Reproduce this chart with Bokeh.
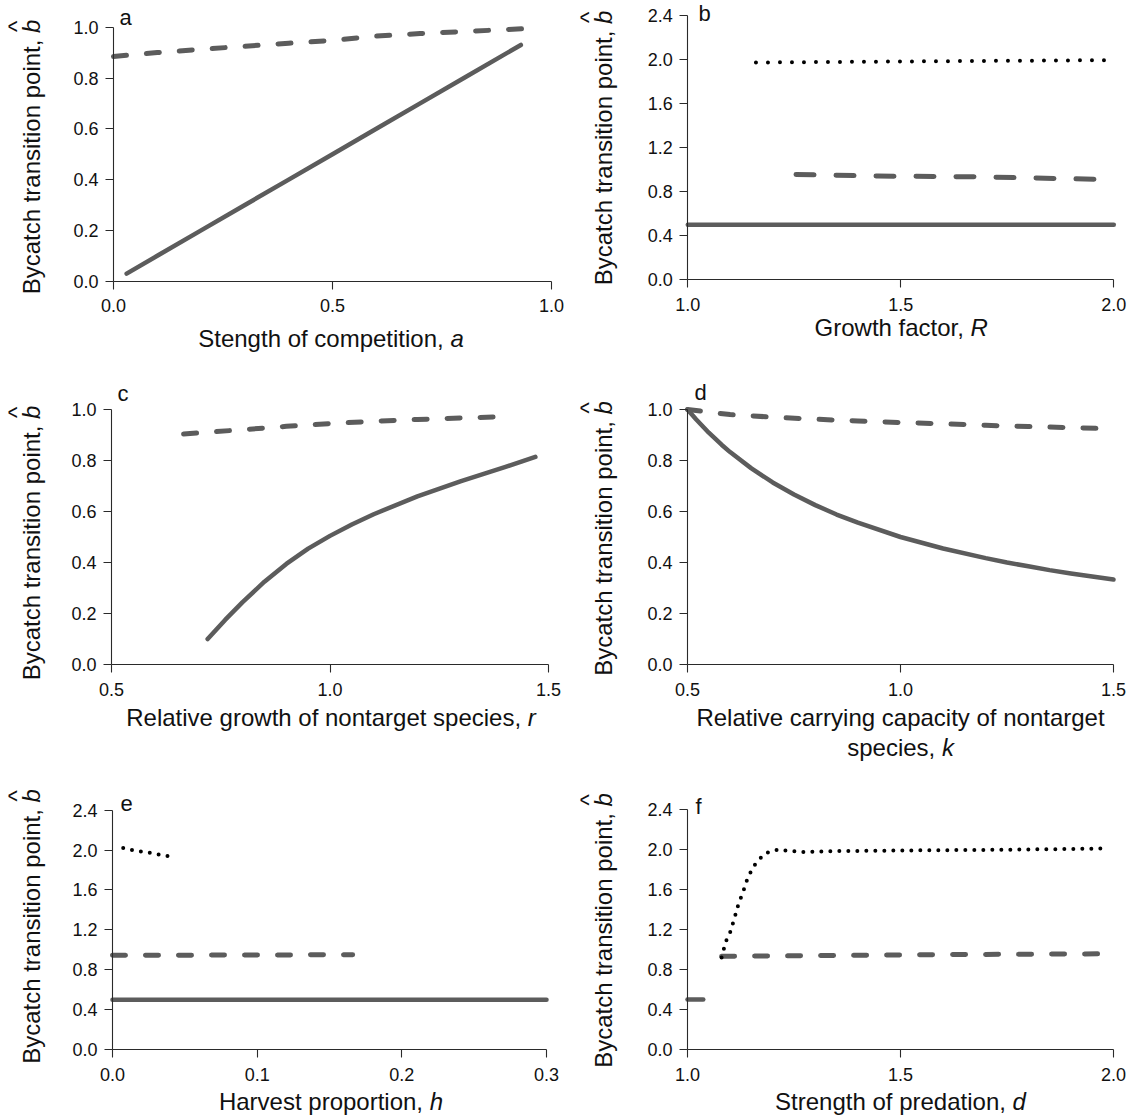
import math
from bokeh.plotting import figure
from bokeh.models import Range1d, FixedTicker, PrintfTickFormatter, Label, LinearAxis
from bokeh.layouts import column, row
from bokeh.embed import file_html
from bokeh.resources import INLINE

FONT = "Liberation Sans"
GRAY = "#5c5c5c"
INK = "#111111"

# ---------------- data ----------------
# panel a : strength of competition
a_x_ticks = [0.0, 0.5, 1.0]
a_y_ticks = [0.0, 0.2, 0.4, 0.6, 0.8, 1.0]
a_solid_x = [0.03, 0.1, 0.2, 0.3, 0.4, 0.5, 0.6, 0.7, 0.8, 0.93]
a_solid_y = [0.03, 0.1, 0.2, 0.3, 0.4, 0.5, 0.6, 0.7, 0.8, 0.93]
a_dash_x = [0.0, 0.1, 0.2, 0.3, 0.4, 0.5, 0.6, 0.7, 0.8, 0.9, 0.95]
a_dash_y = [0.885, 0.9, 0.913, 0.925, 0.937, 0.948, 0.965, 0.975, 0.983, 0.991, 0.995]

# panel b : growth factor R
b_x_ticks = [1.0, 1.5, 2.0]
b_y_ticks = [0.0, 0.4, 0.8, 1.2, 1.6, 2.0, 2.4]
b_solid_x = [1.0, 1.25, 1.5, 1.75, 2.0]
b_solid_y = [0.5, 0.5, 0.5, 0.5, 0.5]
b_dash_x = [1.254, 1.446, 1.66, 1.97]
b_dash_y = [0.956, 0.942, 0.936, 0.912]
b_dot_x = [1.16, 1.4, 1.6, 1.8, 2.0]
b_dot_y = [1.973, 1.98, 1.985, 1.99, 1.995]

# panel c : relative growth of nontarget species r
c_x_ticks = [0.5, 1.0, 1.5]
c_y_ticks = [0.0, 0.2, 0.4, 0.6, 0.8, 1.0]
c_solid_x = [0.72, 0.76, 0.8, 0.85, 0.9, 0.95, 1.0, 1.05, 1.1, 1.2, 1.3, 1.4, 1.47]
c_solid_y = [0.10, 0.175, 0.245, 0.325, 0.395, 0.455, 0.505, 0.55, 0.59, 0.66, 0.72,
             0.775, 0.815]
c_dash_x = [0.665, 0.8, 0.9, 1.0, 1.1, 1.2, 1.3, 1.4]
c_dash_y = [0.905, 0.922, 0.935, 0.946, 0.955, 0.962, 0.968, 0.973]

# panel d : relative carrying capacity k
d_x_ticks = [0.5, 1.0, 1.5]
d_y_ticks = [0.0, 0.2, 0.4, 0.6, 0.8, 1.0]
d_solid_x = [0.5, 0.52, 0.55, 0.58, 0.6, 0.65, 0.7, 0.75, 0.8, 0.85, 0.9, 1.0, 1.1,
             1.2, 1.25, 1.3, 1.35, 1.4, 1.45, 1.5]
d_solid_y = [1.0, 0.962, 0.909, 0.862, 0.833, 0.769, 0.714, 0.667, 0.625, 0.588, 0.556,
             0.5, 0.455, 0.417, 0.4, 0.385, 0.37, 0.357, 0.345, 0.333]
d_dash_x = [0.5, 0.6, 0.7, 0.8, 0.9, 1.0, 1.1, 1.2, 1.3, 1.4, 1.5]
d_dash_y = [1.0, 0.98, 0.97, 0.962, 0.955, 0.949, 0.944, 0.938, 0.933, 0.929, 0.924]

# panel e : harvest proportion h
e_x_ticks = [0.0, 0.1, 0.2, 0.3]
e_y_ticks = [0.0, 0.4, 0.8, 1.2, 1.6, 2.0, 2.4]
e_solid_x = [0.0, 0.1, 0.2, 0.3]
e_solid_y = [0.5, 0.5, 0.5, 0.5]
e_dash_x = [0.0, 0.05, 0.1, 0.166]
e_dash_y = [0.945, 0.946, 0.948, 0.95]
e_dot_x = [0.0074, 0.015, 0.022, 0.027, 0.034, 0.0405]
e_dot_y = [2.02, 1.995, 1.98, 1.97, 1.95, 1.935]

# panel f : strength of predation d
f_x_ticks = [1.0, 1.5, 2.0]
f_y_ticks = [0.0, 0.4, 0.8, 1.2, 1.6, 2.0, 2.4]
f_solid_x = [1.0, 1.037]
f_solid_y = [0.5, 0.5]
f_dash_x = [1.08, 1.2, 1.4, 1.6, 1.8, 2.0]
f_dash_y = [0.933, 0.935, 0.943, 0.949, 0.953, 0.957]
f_dot_x = [1.08, 1.09, 1.10, 1.11, 1.12, 1.13, 1.14, 1.15, 1.16, 1.175, 1.19, 1.215,
           1.24, 1.275, 1.33, 1.5, 1.75, 1.99]
f_dot_y = [0.92, 1.08, 1.17, 1.31, 1.46, 1.57, 1.70, 1.79, 1.86, 1.93, 1.975, 2.0,
           1.985, 1.975, 1.983, 1.99, 1.998, 2.01]

Y_TITLE = "Bycatch transition point, "
Y_VAR = "b"
HAT = "^"

BASE_FIX = 0.4   # rendered baseline sits ~0.4 em lower than requested


class Panel:
    """A figure whose frame is the whole canvas; axes are pinned inside it."""

    def __init__(self, box, xmap, ymap, xticks, yticks):
        fx, fy, fw, fh = box
        xa, pxa, xb, pxb = xmap
        ya, pya, yb, pyb = ymap
        sx = (pxb - pxa) / (xb - xa)
        sy = (pya - pyb) / (yb - ya)
        x0 = xa - (pxa - fx) / sx
        y0 = ya - (fy + fh - pya) / sy
        self.xa, self.ya, self.pxa, self.pya = xa, ya, pxa, pya
        p = figure(frame_width=fw, frame_height=fh,
                   min_border_left=0, min_border_right=0,
                   min_border_top=0, min_border_bottom=0,
                   x_range=Range1d(x0, x0 + fw / sx), y_range=Range1d(y0, y0 + fh / sy),
                   x_axis_location=None, y_axis_location=None,
                   output_backend="svg", toolbar_location=None,
                   background_fill_color="white", border_fill_color="white",
                   outline_line_color=None)
        p.grid.visible = False
        xaxis = LinearAxis(fixed_location=ya)
        yaxis = LinearAxis(fixed_location=xa)
        for ax, ticks, standoff in ((xaxis, xticks, 10), (yaxis, yticks, 7)):
            ax.ticker = FixedTicker(ticks=ticks, minor_ticks=[])
            ax.bounds = (ticks[0], ticks[-1])
            ax.formatter = PrintfTickFormatter(format="%.1f")
            ax.major_tick_out = 8
            ax.major_tick_in = 0
            ax.minor_tick_out = 0
            ax.minor_tick_in = 0
            ax.axis_line_color = "#2a2a2a"
            ax.axis_line_width = 1.1
            ax.major_tick_line_color = "#2a2a2a"
            ax.major_tick_line_width = 1.1
            ax.major_label_text_font = FONT
            ax.major_label_text_font_size = "18px"
            ax.major_label_text_color = INK
            ax.major_label_standoff = standoff
        p.add_layout(xaxis, "below")
        p.add_layout(yaxis, "left")
        self.p = p

    def text(self, text, px, py, angle=0.0, align="left", italic=False, size=24):
        if angle == 0.0:
            py -= BASE_FIX * size
        else:
            px -= BASE_FIX * size
        self.p.add_layout(Label(x=self.xa, y=self.ya, x_offset=px - self.pxa,
                                y_offset=self.pya - py, text=text, angle=angle,
                                text_align=align, text_baseline="alphabetic",
                                text_font=FONT, text_font_size=f"{size}px",
                                text_color=INK,
                                text_font_style="italic" if italic else "normal"))

    def ytitle(self, base_x, split_y):
        up = math.pi / 2
        self.text(Y_TITLE, base_x, split_y, angle=up, align="right")
        self.text(Y_VAR, base_x, split_y, angle=up, align="left", italic=True)
        self.text(HAT, base_x - 15, split_y - 6.5, angle=up, align="center")

    def xtitle(self, normal, var, split_x, base_y):
        self.text(normal, split_x, base_y, align="right")
        self.text(var, split_x, base_y, align="left", italic=True)

    def solid(self, x, y):
        self.p.line(x, y, line_color=GRAY, line_width=4.5, line_cap="round",
                    line_join="round")

    def dashed(self, x, y, dash="13 20"):
        self.p.line(x, y, line_color=GRAY, line_width=5, line_cap="round",
                    line_join="round", line_dash=dash)

    def dotted(self, x, y, dash="0 9"):
        self.p.line(x, y, line_color="black", line_width=4, line_cap="round",
                    line_join="round", line_dash=dash)


LW, RW = 570, 561
ROW_Y = [0, 360, 764]
ROW_H = [360, 404, 354]

# row 1
pa = Panel((0, ROW_Y[0], LW, ROW_H[0]), (0.0, 113, 1.0, 551), (0.0, 280.7, 1.0, 26.7),
           a_x_ticks, a_y_ticks)
pa.solid(a_solid_x, a_solid_y)
pa.dashed(a_dash_x, a_dash_y)
pa.text("a", 119, 26, size=22)
pa.ytitle(41, 32.4)
pa.xtitle("Stength of competition, ", "a", 449.9, 348)

pb = Panel((LW, ROW_Y[0], RW, ROW_H[0]), (1.0, 687.3, 2.0, 1113.3), (0.0, 279.3, 2.4, 15),
           b_x_ticks, b_y_ticks)
pb.solid(b_solid_x, b_solid_y)
pb.dashed(b_dash_x, b_dash_y, dash="18 22")
pb.dotted(b_dot_x, b_dot_y, dash="0 12")
pb.text("b", 698, 22, size=22)
pb.ytitle(612.5, 23.4)
pb.xtitle("Growth factor, ", "R", 970.1, 336.5)

# row 2
pc = Panel((0, ROW_Y[1], LW, ROW_H[1]), (0.5, 111, 1.5, 548), (0.0, 664, 1.0, 409.3),
           c_x_ticks, c_y_ticks)
pc.solid(c_solid_x, c_solid_y)
pc.dashed(c_dash_x, c_dash_y)
pc.text("c", 117, 402, size=22)
pc.ytitle(41, 418.4)
pc.xtitle("Relative growth of nontarget species, ", "r", 527.3, 726.5)

pd = Panel((LW, ROW_Y[1], RW, ROW_H[1]), (0.5, 687, 1.5, 1113), (0.0, 664, 1.0, 409),
           d_x_ticks, d_y_ticks)
pd.solid(d_solid_x, d_solid_y)
pd.dashed(d_dash_x, d_dash_y)
pd.text("d", 694, 401, size=22)
pd.ytitle(612.5, 413.9)
pd.text("Relative carrying capacity of nontarget", 900, 726.5, align="center")
pd.xtitle("species, ", "k", 941.4, 756.5)

# row 3
pe = Panel((0, ROW_Y[2], LW, ROW_H[2]), (0.0, 112, 0.3, 546), (0.0, 1049, 2.4, 809.7),
           e_x_ticks, e_y_ticks)
pe.solid(e_solid_x, e_solid_y)
pe.dashed(e_dash_x, e_dash_y)
pe.dotted(e_dot_x, e_dot_y)
pe.text("e", 120, 812, size=22)
pe.ytitle(41, 801.9)
pe.xtitle("Harvest proportion, ", "h", 429.2, 1111)

pf = Panel((LW, ROW_Y[2], RW, ROW_H[2]), (1.0, 687, 2.0, 1113), (0.0, 1049, 2.4, 809),
           f_x_ticks, f_y_ticks)
pf.solid(f_solid_x, f_solid_y)
pf.dashed(f_dash_x, f_dash_y)
pf.dotted(f_dot_x, f_dot_y)
pf.text("f", 695, 815, size=22)
pf.ytitle(612.5, 805.9)
pf.xtitle("Strength of predation, ", "d", 1012.1, 1111)

layout = column(row(pa.p, pb.p), row(pc.p, pd.p), row(pe.p, pf.p))
open("out.html", "w").write(file_html(layout, INLINE))
